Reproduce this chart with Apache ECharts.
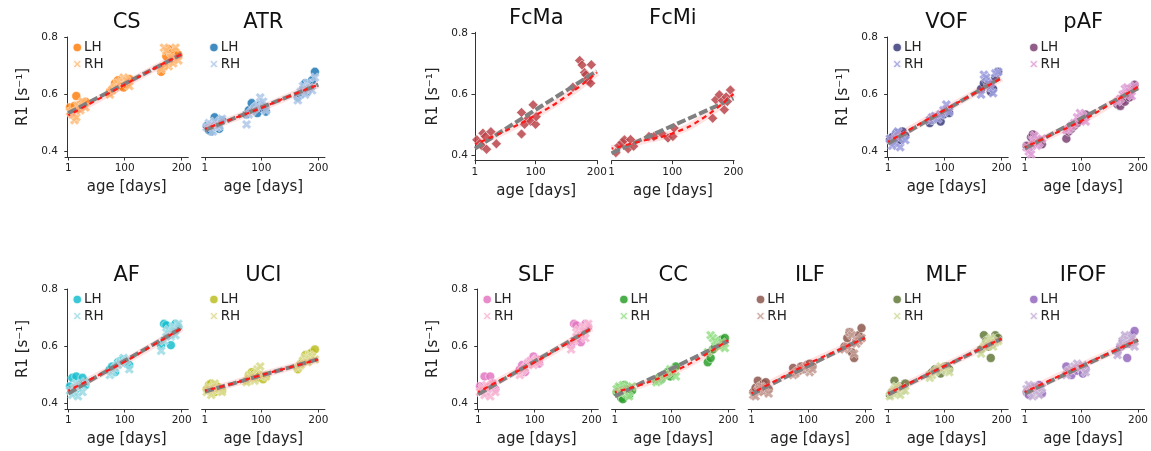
<!DOCTYPE html>
<html><head><meta charset="utf-8">
<script src="https://cdn.jsdelivr.net/npm/echarts@6/dist/echarts.min.js"></script>
<style>html,body{margin:0;padding:0;background:#fff}#c{width:1151px;height:451px}</style>
</head><body><div id="c"></div>
<script>
// ---------------- data ----------------
const xTicks = [1, 100, 200];
const yTicks = [0.4, 0.6, 0.8];
const ages = [4, 8, 12, 15, 18, 22, 26, 31, 74, 78, 83, 88, 93, 98, 103, 108, 164, 169, 173, 177, 181, 185, 189, 194];
const fitAges = [1, 50, 100, 150, 200];

const CS_LH = [0.555,0.545,0.56,0.595,0.55,0.565,0.57,0.575, 0.61,0.62,0.64,0.65,0.63,0.625,0.635,0.655, 0.68,0.70,0.735,0.76,0.745,0.72,0.75,0.74];
const CS_RH = [0.54,0.53,0.51,0.52,0.56,0.545,0.575,0.555, 0.60,0.615,0.625,0.64,0.645,0.66,0.65,0.63, 0.69,0.765,0.755,0.70,0.73,0.71,0.765,0.72];
const CS_red = [0.527,0.58,0.635,0.69,0.742];
const CS_gray = [0.535,0.586,0.638,0.69,0.742];

const ATR_LH = [0.49,0.475,0.47,0.5,0.52,0.49,0.48,0.51, 0.53,0.545,0.57,0.555,0.535,0.565,0.55,0.54, 0.59,0.6,0.62,0.64,0.61,0.63,0.65,0.68];
const ATR_RH = [0.485,0.5,0.495,0.47,0.505,0.485,0.49,0.515, 0.495,0.53,0.54,0.55,0.56,0.59,0.575,0.545, 0.58,0.61,0.63,0.6,0.64,0.625,0.615,0.66];
const ATR_red = [0.48,0.515,0.553,0.595,0.635];
const ATR_gray = [0.475,0.515,0.555,0.595,0.635];

const VOF_LH = [0.44,0.45,0.43,0.465,0.445,0.44,0.47,0.455, 0.50,0.51,0.515,0.52,0.505,0.53,0.54,0.535, 0.62,0.64,0.65,0.635,0.61,0.62,0.66,0.68];
const VOF_RH = [0.445,0.42,0.43,0.46,0.47,0.415,0.45,0.44, 0.51,0.52,0.525,0.515,0.53,0.545,0.565,0.54, 0.60,0.67,0.66,0.64,0.625,0.605,0.675,0.68];
const VOF_red = [0.434,0.49,0.546,0.602,0.658];
const VOF_gray = [0.428,0.486,0.544,0.602,0.66];

const pAF_LH = [0.42,0.41,0.45,0.46,0.43,0.44,0.435,0.425, 0.445,0.47,0.48,0.49,0.5,0.51,0.52,0.53, 0.565,0.56,0.58,0.575,0.6,0.59,0.62,0.635];
const pAF_RH = [0.415,0.40,0.39,0.44,0.455,0.42,0.43,0.445, 0.475,0.48,0.49,0.5,0.52,0.535,0.525,0.505, 0.575,0.585,0.6,0.62,0.625,0.61,0.595,0.63];
const pAF_red = [0.415,0.46,0.507,0.565,0.628];
const pAF_gray = [0.41,0.463,0.516,0.569,0.622];

const AF_LH = [0.46,0.49,0.44,0.495,0.455,0.47,0.49,0.465, 0.52,0.53,0.51,0.545,0.55,0.555,0.54,0.535, 0.605,0.68,0.675,0.64,0.605,0.66,0.68,0.67];
const AF_RH = [0.445,0.43,0.455,0.47,0.425,0.46,0.44,0.475, 0.5,0.51,0.525,0.535,0.545,0.56,0.55,0.52, 0.585,0.62,0.65,0.66,0.635,0.67,0.64,0.68];
const AF_red = [0.445,0.495,0.547,0.605,0.665];
const AF_gray = [0.435,0.493,0.55,0.607,0.665];

const UCI_LH = [0.45,0.465,0.47,0.455,0.44,0.46,0.45,0.445, 0.48,0.5,0.51,0.505,0.49,0.5,0.485,0.495, 0.52,0.54,0.55,0.57,0.56,0.575,0.58,0.59];
const UCI_RH = [0.44,0.455,0.43,0.46,0.47,0.445,0.45,0.44, 0.475,0.49,0.5,0.48,0.52,0.53,0.5,0.495, 0.525,0.535,0.55,0.56,0.545,0.57,0.565,0.555];
const UCI_red = [0.445,0.47,0.5,0.527,0.555];
const UCI_gray = [0.442,0.47,0.499,0.527,0.556];

const SLF_LH = [0.46,0.445,0.495,0.44,0.455,0.495,0.47,0.45, 0.52,0.535,0.51,0.545,0.55,0.565,0.555,0.54, 0.605,0.68,0.675,0.64,0.615,0.66,0.68,0.67];
const SLF_RH = [0.44,0.455,0.43,0.465,0.45,0.425,0.47,0.44, 0.5,0.515,0.525,0.54,0.55,0.535,0.555,0.545, 0.59,0.62,0.65,0.66,0.64,0.67,0.63,0.68];
const SLF_red = [0.44,0.493,0.545,0.603,0.665];
const SLF_gray = [0.432,0.49,0.548,0.606,0.664];

const CC_LH = [0.44,0.455,0.42,0.415,0.465,0.45,0.43,0.445, 0.48,0.49,0.485,0.5,0.51,0.495,0.52,0.53, 0.545,0.56,0.59,0.6,0.61,0.62,0.625,0.63];
const CC_RH = [0.45,0.46,0.435,0.465,0.44,0.455,0.425,0.46, 0.475,0.48,0.49,0.5,0.505,0.52,0.51,0.495, 0.58,0.64,0.63,0.62,0.605,0.6,0.615,0.595];
const CC_red = [0.44,0.468,0.508,0.56,0.623];
const CC_gray = [0.425,0.474,0.522,0.571,0.62];

const ILF_LH = [0.44,0.455,0.48,0.46,0.445,0.47,0.475,0.45, 0.525,0.51,0.515,0.53,0.52,0.535,0.54,0.53, 0.6,0.63,0.65,0.58,0.56,0.62,0.64,0.665];
const ILF_RH = [0.43,0.425,0.445,0.45,0.46,0.44,0.455,0.435, 0.5,0.505,0.515,0.52,0.525,0.53,0.51,0.52, 0.59,0.6,0.65,0.64,0.575,0.61,0.62,0.63];
const ILF_red = [0.435,0.487,0.539,0.585,0.63];
const ILF_gray = [0.432,0.482,0.532,0.582,0.632];

const MLF_LH = [0.43,0.44,0.48,0.45,0.455,0.46,0.445,0.47, 0.5,0.51,0.52,0.515,0.505,0.525,0.53,0.52, 0.59,0.64,0.62,0.6,0.56,0.61,0.64,0.63];
const MLF_RH = [0.425,0.44,0.45,0.46,0.435,0.43,0.455,0.445, 0.49,0.5,0.51,0.52,0.53,0.525,0.515,0.51, 0.575,0.6,0.61,0.62,0.63,0.6,0.615,0.62];
const MLF_red = [0.435,0.483,0.532,0.58,0.628];
const MLF_gray = [0.432,0.481,0.53,0.579,0.628];

const IFOF_LH = [0.44,0.43,0.455,0.46,0.445,0.45,0.465,0.435, 0.53,0.51,0.5,0.52,0.515,0.525,0.505,0.52, 0.58,0.6,0.62,0.63,0.56,0.61,0.64,0.655];
const IFOF_RH = [0.45,0.465,0.44,0.425,0.46,0.445,0.43,0.455, 0.5,0.515,0.52,0.53,0.54,0.525,0.535,0.51, 0.57,0.6,0.62,0.64,0.625,0.61,0.63,0.6];
const IFOF_red = [0.44,0.486,0.532,0.578,0.623];
const IFOF_gray = [0.435,0.482,0.529,0.576,0.623];

const FcMa_ages = [4,9,12,14,18,20,27,36, 77,77,82,88,92,96,100,101, 161,172,176,180,182,185,186,190,191];
const FcMa_vals = [0.449,0.437,0.43,0.471,0.46,0.418,0.476,0.436, 0.539,0.468,0.5,0.52,0.51,0.564,0.5,0.525, 0.622,0.71,0.695,0.67,0.663,0.65,0.641,0.635,0.696];
const FcMa_red = [0.435,0.478,0.53,0.592,0.67];
const FcMa_gray = [0.42,0.484,0.548,0.611,0.675];

const FcMi_ages = [8,13,18,22,28,32,37, 62,70,83,93,101,103, 166,171,177,182,185,188,190,195];
const FcMi_vals = [0.407,0.43,0.44,0.449,0.42,0.45,0.428, 0.46,0.46,0.47,0.455,0.46,0.488, 0.52,0.581,0.597,0.578,0.548,0.59,0.575,0.613];
const FcMi_red = [0.42,0.445,0.47,0.52,0.60];
const FcMi_gray = [0.405,0.45,0.495,0.54,0.585];

// ---------------- layout / style ----------------
const xPath = 'path://M0,2.5L2.5,0L5,2.5L7.5,0L10,2.5L7.5,5L10,7.5L7.5,10L5,7.5L2.5,10L0,7.5L2.5,5Z';
const ROWS = {
  r0: {top: 37, h: 120, titleTop: 12},
  rF: {top: 32.3, h: 128.4, titleTop: 8},
  r1: {top: 289, h: 120, titleTop: 264.6}
};
const colLeft = c => 65 + c * 136.65;
const AXW = 123.3;
const txt = '#222';

const panels = [
  {n:'CS', row:'r0', col:0, y:true, lh:CS_LH, rh:CS_RH, red:CS_red, gray:CS_gray, c:['#ff7f0e','#ffbb78']},
  {n:'ATR', row:'r0', col:1, lh:ATR_LH, rh:ATR_RH, red:ATR_red, gray:ATR_gray, c:['#1f77b4','#aec7e8']},
  {n:'FcMa', row:'rF', col:3, y:true, fc:true, fa:FcMa_ages, fv:FcMa_vals, red:FcMa_red, gray:FcMa_gray, c:['#b8454b','#b8454b']},
  {n:'FcMi', row:'rF', col:4, fc:true, fa:FcMi_ages, fv:FcMi_vals, red:FcMi_red, gray:FcMi_gray, c:['#b8454b','#b8454b']},
  {n:'VOF', row:'r0', col:6, y:true, lh:VOF_LH, rh:VOF_RH, red:VOF_red, gray:VOF_gray, c:['#393b79','#9c9ede']},
  {n:'pAF', row:'r0', col:7, lh:pAF_LH, rh:pAF_RH, red:pAF_red, gray:pAF_gray, c:['#7b4173','#de9ed6']},
  {n:'AF', row:'r1', col:0, y:true, lh:AF_LH, rh:AF_RH, red:AF_red, gray:AF_gray, c:['#17becf','#9edae5']},
  {n:'UCI', row:'r1', col:1, lh:UCI_LH, rh:UCI_RH, red:UCI_red, gray:UCI_gray, c:['#bcbd22','#dbdb8d']},
  {n:'SLF', row:'r1', col:3, y:true, lh:SLF_LH, rh:SLF_RH, red:SLF_red, gray:SLF_gray, c:['#e377c2','#f7b6d2']},
  {n:'CC', row:'r1', col:4, lh:CC_LH, rh:CC_RH, red:CC_red, gray:CC_gray, c:['#2ca02c','#98df8a']},
  {n:'ILF', row:'r1', col:5, lh:ILF_LH, rh:ILF_RH, red:ILF_red, gray:ILF_gray, c:['#8c564b','#c49c94']},
  {n:'MLF', row:'r1', col:6, lh:MLF_LH, rh:MLF_RH, red:MLF_red, gray:MLF_gray, c:['#637939','#cedb9c']},
  {n:'IFOF', row:'r1', col:7, lh:IFOF_LH, rh:IFOF_RH, red:IFOF_red, gray:IFOF_gray, c:['#9467bd','#c5b0d5']}
];

const zip = (xs, ys) => xs.map((x, i) => [x, ys[i]]);

const option = {animation:false, backgroundColor:'#fff', title:[], grid:[], xAxis:[], yAxis:[], legend:[], series:[]};

panels.forEach((p, i) => {
  const R = ROWS[p.row];
  const left = colLeft(p.col);
  const w = p.fc ? 122.5 : AXW;
  option.grid.push({left: left, top: R.top, width: w, height: R.h, containLabel:false});
  option.title.push({text: p.n, left: left + w/2, top: R.titleTop, padding:0, textAlign:'center',
    textStyle:{fontSize:21, fontWeight:'normal', color:'#111', fontFamily:'DejaVu Sans'}});
  option.xAxis.push({type:'value', gridIndex:i, min: p.fc ? 1 : -4.8, max: p.fc ? 201 : 211.6,
    axisLine:{show:true, lineStyle:{color:'#333', width:1}},
    axisTick:{show:true, customValues:xTicks, length:3.5, lineStyle:{color:'#333'}},
    axisLabel:{customValues:xTicks, margin:6, fontSize:10.5, color:txt, fontFamily:'DejaVu Sans'},
    splitLine:{show:false},
    name:'age [days]', nameLocation:'middle', nameGap:23,
    nameTextStyle:{fontSize:15, color:txt, fontFamily:'DejaVu Sans'}});
  option.yAxis.push({type:'value', gridIndex:i, min:0.3805, max:0.8025, show: !!p.y,
    axisLine:{show:true, lineStyle:{color:'#333', width:1}},
    axisTick:{show:true, customValues:yTicks, length:3.5, lineStyle:{color:'#333'}},
    axisLabel:{customValues:yTicks, margin:7, fontSize:10.5, color:txt, fontFamily:'DejaVu Sans',
      formatter: v => v.toFixed(1)},
    splitLine:{show:false},
    name:'R1 [s\u207B\u00B9]', nameLocation:'middle', nameGap:34, nameRotate:90,
    nameTextStyle:{fontSize:15, color:txt, fontFamily:'DejaVu Sans'}});

  if (p.fc) {
    option.series.push({type:'scatter', xAxisIndex:i, yAxisIndex:i, data: zip(p.fa, p.fv),
      symbol:'diamond', symbolSize:[10,10],
      itemStyle:{color:p.c[0], opacity:0.85, borderColor:'#fff', borderWidth:0.6}});
  } else {
    const nL = p.n + ' LH', nR = p.n + ' RH';
    option.series.push({name:nL, type:'scatter', xAxisIndex:i, yAxisIndex:i, data: zip(ages, p.lh),
      symbol:'circle', symbolSize:9,
      itemStyle:{color:p.c[0], opacity:0.85, borderColor:'#fff', borderWidth:0.6}});
    option.series.push({name:nR, type:'scatter', xAxisIndex:i, yAxisIndex:i, data: zip(ages, p.rh),
      symbol:xPath, symbolSize:9.5,
      itemStyle:{color:p.c[1], opacity:0.85, borderColor:'#fff', borderWidth:0.4}});
    option.legend.push({orient:'vertical', left: left + 6.5, top: R.top + 3.5, itemGap:2.6,
      itemWidth:9.5, itemHeight:9.5, padding:0,
      data:[{name:nL, icon:'circle'}, {name:nR, icon:xPath}],
      formatter: nm => nm.split(' ')[1],
      textStyle:{fontSize:13.5, color:txt, fontFamily:'DejaVu Sans', padding:[0,0,0,-3]}});
  }
  // confidence halo, linear fit (gray), nonlinear fit (red)
  option.series.push({type:'line', xAxisIndex:i, yAxisIndex:i, data: zip(fitAges, p.red), smooth:true,
    symbol:'none', silent:true, lineStyle:{color:'#ff4040', width:7, opacity:0.15}});
  option.series.push({type:'line', xAxisIndex:i, yAxisIndex:i, data: zip(fitAges, p.gray),
    symbol:'none', silent:true, lineStyle:{color:'#808080', width:4, type:[9,3]}});
  option.series.push({type:'line', xAxisIndex:i, yAxisIndex:i, data: zip(fitAges, p.red), smooth:true,
    symbol:'none', silent:true, lineStyle:{color:'#ff1a1a', width:2.2, type:[5,4], dashOffset:3}});
});

const chart = echarts.init(document.getElementById('c'), null, {renderer:'canvas'});
chart.setOption(option);
</script>
</body></html>
